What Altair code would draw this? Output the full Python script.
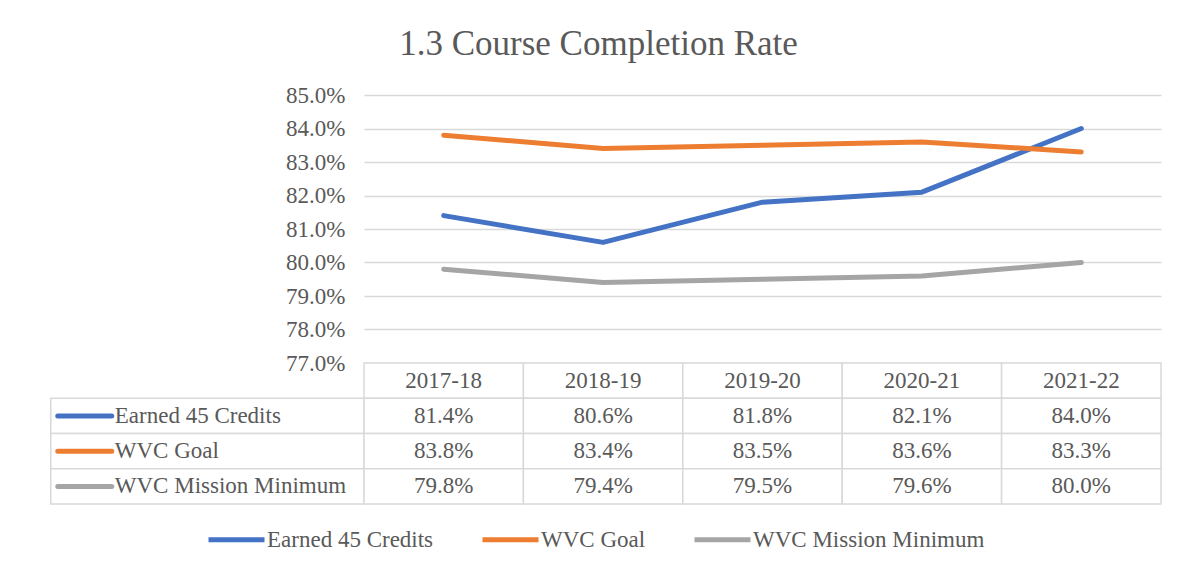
import altair as alt
import pandas as pd

# ---------------- data ----------------
years = ["2017-18", "2018-19", "2019-20", "2020-21", "2021-22"]
series = ["Earned 45 Credits", "WVC Goal", "WVC Mission Minimum"]
earned = [81.4, 80.6, 81.8, 82.1, 84.0]
goal = [83.8, 83.4, 83.5, 83.6, 83.3]
mission = [79.8, 79.4, 79.5, 79.6, 80.0]
y_ticks = [77.0, 78.0, 79.0, 80.0, 81.0, 82.0, 83.0, 84.0, 85.0]

colors = ["#4472C4", "#ED7D31", "#A5A5A5"]
FONT = "Liberation Serif"
TEXT = "#595959"
GRID = "#D9D9D9"
FS = 23
LABEL_W = 1.965  # row-header column width, in year-column units

# ---------------- tables ----------------
values_by_series = [earned, goal, mission]
rows = []
for k, (s, vals) in enumerate(zip(series, values_by_series)):
    for i, (yr, v) in enumerate(zip(years, vals)):
        rows.append(dict(series=s, year=yr, pos=i + 0.5, value=v / 100.0, row=k + 1.5))
df = pd.DataFrame(rows)

cells = []
for i, yr in enumerate(years):
    cells.append(dict(x0=i, x1=i + 1, r0=0, r1=1))
for k, s in enumerate(series):
    cells.append(dict(x0=-LABEL_W, x1=0, r0=k + 1, r1=k + 2))
    for i, yr in enumerate(years):
        cells.append(dict(x0=i, x1=i + 1, r0=k + 1, r1=k + 2))
cells_df = pd.DataFrame(cells)

header_df = pd.DataFrame(dict(year=years, pos=[i + 0.5 for i in range(len(years))], row=[0.5] * len(years)))
label_df = pd.DataFrame(dict(series=series, xl=[-LABEL_W] * len(series), row=[k + 1.5 for k in range(len(series))]))

# ---------------- scales ----------------
xs = alt.Scale(domain=[0, 5], nice=False, zero=False)
ys_line = alt.Scale(domain=[0.77, 0.85], nice=False, zero=False)
ys_table = alt.Scale(domain=[0, 4], range=[268, 268 + 4 * 35.25], nice=False, zero=False)
cscale = alt.Scale(domain=series, range=colors)

legend = alt.Legend(
    orient="none", legendX=-158, legendY=414, direction="horizontal",
    symbolType="stroke", symbolSize=3136, symbolStrokeWidth=5,
    labelFont=FONT, labelFontSize=FS, labelColor=TEXT, labelOffset=0,
    columnPadding=38, padding=0, title=None, labelLimit=400,
)

lines = alt.Chart(df).mark_line(strokeWidth=5, strokeCap="round", strokeJoin="round").encode(
    x=alt.X("pos:Q", scale=xs, axis=None),
    y=alt.Y("value:Q", scale=ys_line, title=None,
            axis=alt.Axis(values=[t / 100 for t in y_ticks], format=".1%", grid=True,
                          gridColor=GRID, gridWidth=1.5, domain=False, ticks=False,
                          labelPadding=19, labelFont=FONT, labelFontSize=FS,
                          labelColor=TEXT, labelBaseline="middle")),
    color=alt.Color("series:N", scale=cscale, title=None, legend=legend),
)

cell_layer = alt.Chart(cells_df).mark_rect(fill="white", stroke=GRID, strokeWidth=1.5).encode(
    x=alt.X("x0:Q", scale=xs, axis=None), x2="x1:Q",
    y=alt.Y("r0:Q", scale=ys_table, axis=None), y2="r1:Q",
)

txt = dict(font=FONT, fontSize=FS, color=TEXT, baseline="middle")

header_layer = alt.Chart(header_df).mark_text(align="center", **txt).encode(
    x=alt.X("pos:Q", scale=xs, axis=None),
    y=alt.Y("row:Q", scale=ys_table, axis=None),
    text="year:N",
)

value_layer = alt.Chart(df).mark_text(align="center", **txt).encode(
    x=alt.X("pos:Q", scale=xs, axis=None),
    y=alt.Y("row:Q", scale=ys_table, axis=None),
    text=alt.Text("value:Q", format=".1%"),
)

label_layer = alt.Chart(label_df).mark_text(align="left", dx=64, **txt).encode(
    x=alt.X("xl:Q", scale=xs, axis=None),
    y=alt.Y("row:Q", scale=ys_table, axis=None),
    text="series:N",
)

swatch_layer = alt.Chart(label_df).mark_rule(strokeWidth=5, strokeCap="round", xOffset=7, x2Offset=61).encode(
    x=alt.X("xl:Q", scale=xs, axis=None), x2="xl:Q",
    y=alt.Y("row:Q", scale=ys_table, axis=None),
    color=alt.Color("series:N", scale=cscale, title=None, legend=legend),
)

table = alt.layer(cell_layer, header_layer, value_layer, label_layer, swatch_layer)

chart = alt.layer(lines, table).resolve_scale(y="independent").properties(
    width=797, height=268,
    padding={"left": 42, "top": 19, "right": 5, "bottom": 5},
    background="white",
    title=alt.Title("1.3 Course Completion Rate", font=FONT, fontSize=35, color=TEXT,
                    fontWeight="normal", anchor="middle", dx=-164, offset=22),
).configure_view(stroke=None)

chart.save("out.html", embed_options={"renderer": "svg", "actions": False})
